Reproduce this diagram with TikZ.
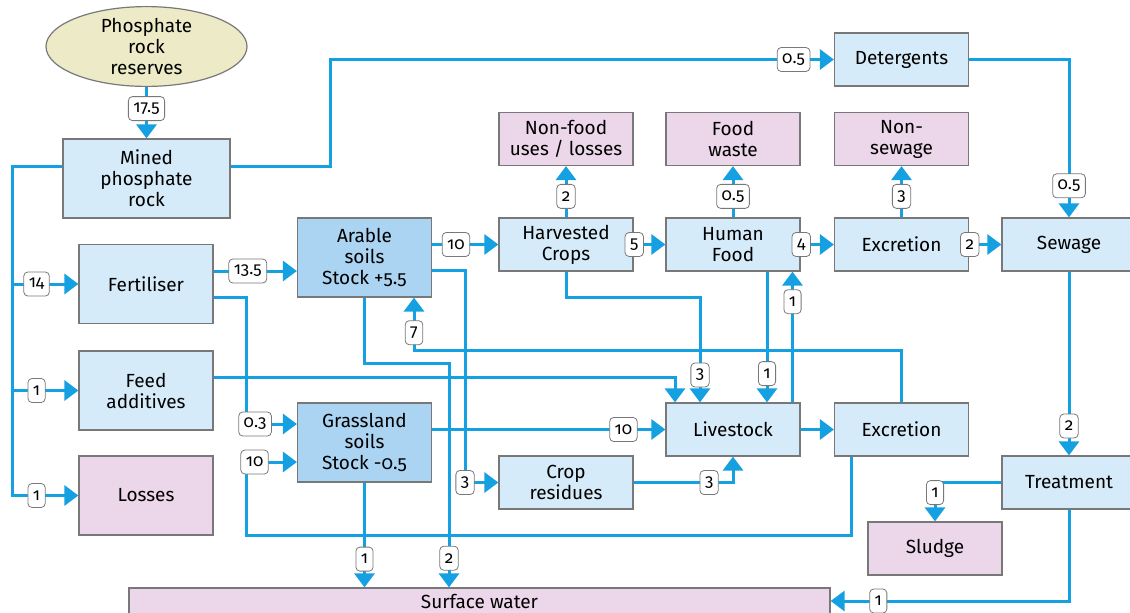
\documentclass[tikz,border=0pt]{standalone}
\usepackage{fontspec}
\setmainfont{Fira Sans}[Numbers=OldStyle]
\usetikzlibrary{arrows.meta,shapes.geometric}

\definecolor{flowblue}{RGB}{20,160,225}
\definecolor{boxblue}{RGB}{214,235,249}
\definecolor{soilblue}{RGB}{170,212,242}
\definecolor{sinkpink}{RGB}{236,214,234}
\definecolor{rockyellow}{RGB}{237,235,199}
\definecolor{edgegray}{RGB}{120,120,120}

\tikzset{
    pool/.style={draw=edgegray, line width=0.6pt, fill=boxblue, align=center,
        minimum width=67pt, minimum height=26.5pt, inner sep=1pt,
        font={\fontsize{9.5}{10.5}\selectfont}},
    tallpool/.style={pool, minimum height=39.5pt},
    soil/.style={tallpool, fill=soilblue},
    sink/.style={pool, fill=sinkpink},
    flow/.style={draw=flowblue, line width=1.5pt, -{Triangle[width=10pt,length=7pt]}},
    val/.style={draw=edgegray, line width=0.4pt, fill=white, rounded corners=2pt,
        inner xsep=2.5pt, inner ysep=0pt, minimum height=12pt,
        font={\fontsize{8.5}{8.5}\selectfont}}
}

\begin{document}
\begin{tikzpicture}[x=0.5pt, y=-0.5pt]
    \useasboundingbox (0,0) rectangle (1130,612);

    % sources and stocks
    \node[ellipse, draw=edgegray, line width=0.6pt, fill=rockyellow, align=center,
        minimum width=100.5pt, minimum height=39.5pt, inner sep=0pt,
        font={\fontsize{9.5}{10.5}\selectfont}]
        (reserves) at (146.5,46.5) {Phosphate\\rock\\reserves};
    \node[tallpool, minimum width=83.5pt] (mined) at (146.5,178.5) {Mined\\phosphate\\rock};
    \node[tallpool] (fert) at (146,284) {Fertiliser};
    \node[tallpool] (feed) at (146,390.5) {Feed\\additives};
    \node[sink, minimum height=39.5pt] (losses) at (146,495.5) {Losses};
    \node[soil] (arable) at (364.5,257.5) {Arable\\soils\\Stock +5.5};
    \node[soil] (grass) at (364.5,442.5) {Grassland\\soils\\Stock -0.5};

    % food chain
    \node[pool] (deterg) at (901.5,59.5) {Detergents};
    \node[sink] (nonfood) at (566,139) {Non-food\\uses / losses};
    \node[sink] (foodwaste) at (733,139) {Food\\waste};
    \node[sink] (nonsewage) at (901.5,139) {Non-\\sewage};
    \node[pool] (harvest) at (566,244.5) {Harvested\\Crops};
    \node[pool] (humfood) at (733,244.5) {Human\\Food};
    \node[pool] (excrtop) at (901.5,244.5) {Excretion};
    \node[pool] (sewage) at (1069,244.5) {Sewage};
    \node[pool] (livestock) at (733,429.5) {Livestock};
    \node[pool] (excrmid) at (901.5,429.5) {Excretion};
    \node[pool] (cropres) at (566,482.5) {Crop\\residues};
    \node[pool] (treat) at (1069,482.5) {Treatment};
    \node[sink] (sludge) at (935,548.5) {Sludge};
    \node[sink, minimum width=350.5pt, minimum height=13pt, inner ysep=0pt]
        (surface) at (479.5,601) {Surface water};

    % flows
    \draw[flow] (reserves) -- node[val, pos=0.42]{17.5} (mined);
    \draw[flow] (mined.east |- 0,166) -| (330,59.5) -- node[val, pos=0.92]{0.5} (deterg);
    \draw[flow] (deterg) -| node[val, pos=0.9]{0.5} (sewage);

    \draw[flow] (mined.west |- 0,166) -| (12,284) -- node[val, pos=0.37]{14} (fert);
    \draw[flow] (mined.west |- 0,166) -| (12,390.5) -- node[val, pos=0.37]{1} (feed);
    \draw[flow] (mined.west |- 0,166) -| (12,495.5) -- node[val, pos=0.37]{1} (losses);

    \draw[flow] (fert.east |- 0,271) -- node[val, pos=0.41]{13.5} (arable.west |- 0,271);
    \draw[flow] (fert.east |- 0,297) -| (246.5,424) -- node[val, pos=0.17]{0.3} (grass.west |- 0,424);
    \draw[flow] (feed.east |- 0,377) -| (livestock.north -| 675,0);

    \draw[flow] (arable.east |- harvest) -- node[val, pos=0.36]{10} (harvest);
    \draw[flow] (harvest) -- node[val, pos=0.02]{5} (humfood);
    \draw[flow] (humfood) -- node[val, pos=0.02]{4} (excrtop);
    \draw[flow] (excrtop) -- node[val, pos=0.02]{2} (sewage);
    \draw[flow] (harvest) -- node[val, pos=0.41]{2} (nonfood);
    \draw[flow] (humfood) -- node[val, pos=0.41]{0.5} (foodwaste);
    \draw[flow] (excrtop) -- node[val, pos=0.41]{3} (nonsewage);
    \draw[flow] (sewage) -- node[val, pos=0.84]{2} (treat);
    \draw[flow] (treat) -| node[val, pos=0.63]{1} (sludge);
    \draw[flow] (treat) |- node[val, pos=0.9]{1} (surface);

    \draw[flow] (harvest) |- (700,297) -- node[val, pos=0.74]{3} (livestock.north -| 700,0);
    \draw[flow] (humfood.south -| 767,0) -- node[val, pos=0.78]{1} (livestock.north -| 767,0);
    \draw[flow] (livestock.north -| 792.5,0) -- node[val, pos=0.77]{1} (humfood.south -| 792.5,0);
    \draw[flow] (excrmid) |- (414,350) -- node[val, pos=0.33]{7} (arable.south -| 414,0);
    \draw[flow] (arable) |- (449,363) -- node[val, pos=0.87]{2} (surface.north -| 449,0);
    \draw[flow] (arable.east |- 0,270.5) -| (465,482.5) node[val]{3} -- (cropres);
    \draw[flow] (cropres) -| node[val, pos=0.38]{3} (livestock);
    \draw[flow] (grass.east |- livestock) -- node[val, pos=0.82]{10} (livestock);
    \draw[flow] (livestock) -- (excrmid);
    \draw[flow] (excrmid.south -| 851.5,0) |- (246.5,535) |- node[val, pos=0.58]{10} (grass.west |- 0,462);
    \draw[flow] (grass) -- node[val, pos=0.73]{1} (grass |- surface.north);
\end{tikzpicture}
\end{document}
